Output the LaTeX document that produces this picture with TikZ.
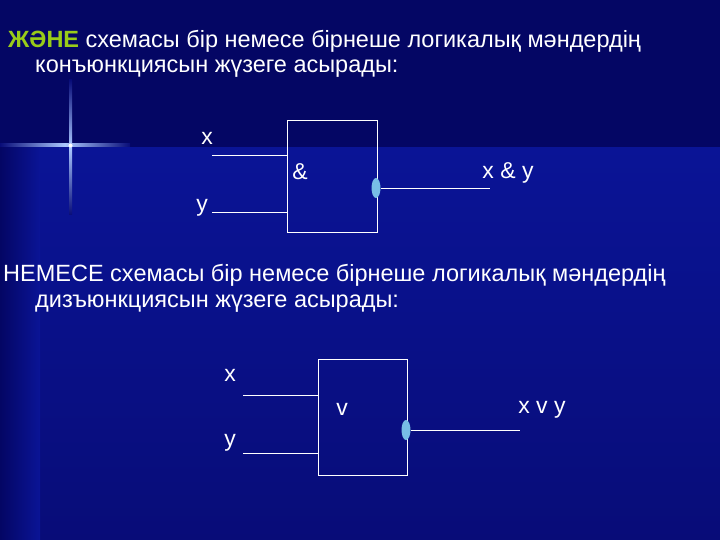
\documentclass[tikz,border=0pt]{standalone}
\usepackage{fontspec}
\setmainfont{Liberation Sans}
\usetikzlibrary{shapes.geometric}
\definecolor{bgdark}{RGB}{4,6,100}
\definecolor{bglight}{RGB}{10,20,150}
\definecolor{bgmid}{RGB}{8,12,120}
\definecolor{flare}{RGB}{170,200,255}
\definecolor{bulb}{RGB}{120,190,230}
\begin{document}
\begin{tikzpicture}[x=1pt,y=-1pt,
  txt/.style={text=white,font=\fontsize{23.5}{27}\selectfont,inner sep=0pt,anchor=west},
  lbl/.style={text=white,font=\fontsize{23}{27}\selectfont,inner sep=0pt},
  wire/.style={draw=white,line width=0.8pt},
  gate/.style={draw=white,line width=0.8pt},
  bulbnode/.style={ellipse,fill=bulb,minimum width=9pt,minimum height=20pt,inner sep=0pt}]
\useasboundingbox (0,0) rectangle (720,540);
\fill[bgdark] (0,0) rectangle (720,540);
\shade[top color=bglight,bottom color=bgmid] (40,148) rectangle (720,540);
\shade[left color=bgdark,right color=bglight] (0,148) rectangle (40,540);
% star flare
\shade[left color=bgmid,right color=bgmid,middle color=flare] (0,144) rectangle (130,147);
\shade[top color=bgmid,bottom color=bgmid,middle color=flare] (69,80) rectangle (72,215);
\fill[white] (70.5,145.5) circle (2);
% texts
\node[txt] (t1) at (8,41) {\textcolor[rgb]{0.6,0.8,0.1}{\textbf{ЖӘНЕ}} схемасы бір немесе бірнеше логикалық мәндердің};
\node[txt] (t2) at (35,69) {конъюнкциясын жүзеге асырады:};
\node[txt] (t3) at (3,275) {НЕМЕСЕ  схемасы бір немесе бірнеше логикалық мәндердің};
\node[txt] (t4) at (35,304) {дизъюнкциясын жүзеге асырады:};
% gate 1
\coordinate (b1tl) at (287,120); \coordinate (b1br) at (377,232);
\draw[gate] (b1tl) rectangle (b1br);
\node[lbl] (x1) at (207,138) {x};
\node[lbl] (y1) at (202,208) {y};
\node[lbl] (and) at (300,172) {\&};
\coordinate (x1s) at (212,155); \coordinate (x1e) at (287,155);
\coordinate (y1s) at (212,212); \coordinate (y1e) at (287,212);
\draw[wire] (x1s) -- (x1e);
\draw[wire] (y1s) -- (y1e);
\node[bulbnode] (o1) at (376,188) {};
\coordinate (o1s) at (398,188); \coordinate (o1e) at (490,188);
\draw[wire] (o1.east) -- (o1e);
\node[lbl] (r1) at (508,173) {x \& y};
% gate 2
\coordinate (b2tl) at (318,359); \coordinate (b2br) at (407,475);
\draw[gate] (b2tl) rectangle (b2br);
\node[lbl] (x2) at (230,375) {x};
\node[lbl] (y2) at (230,443) {y};
\node[lbl] (or) at (342,409) {v};
\coordinate (x2s) at (243,395); \coordinate (x2e) at (318,395);
\coordinate (y2s) at (243,453); \coordinate (y2e) at (318,453);
\draw[wire] (x2s) -- (x2e);
\draw[wire] (y2s) -- (y2e);
\node[bulbnode] (o2) at (406,430) {};
\coordinate (o2e) at (520,430);
\draw[wire] (o2.east) -- (o2e);
\node[lbl] (r2) at (542,410) {x v y};
\end{tikzpicture}
\end{document}
